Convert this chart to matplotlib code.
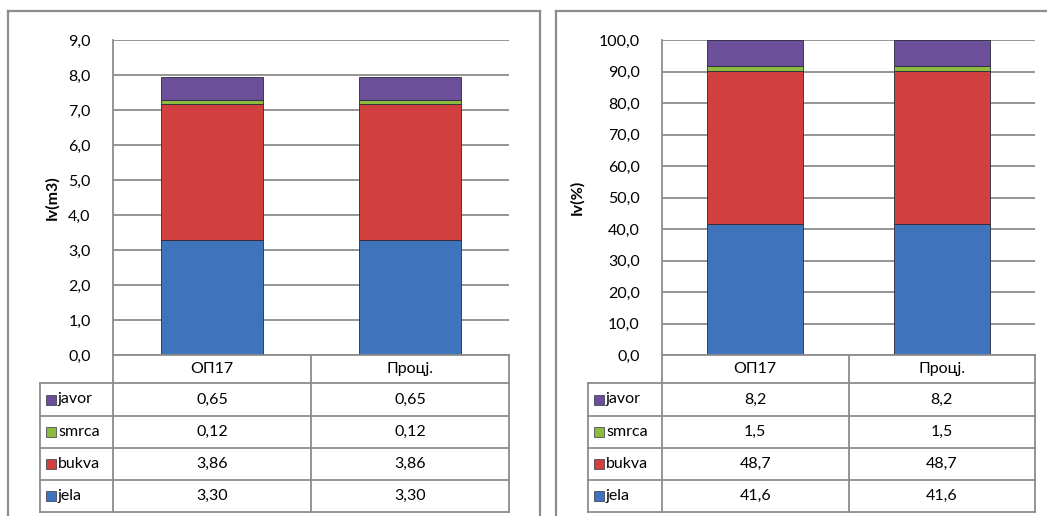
import matplotlib.pyplot as plt
from matplotlib.patches import Rectangle
from matplotlib.lines import Line2D

categories = ['ОП17', 'Процј.']
species = ['jela', 'bukva', 'smrca', 'javor']
colors = ['#3f74bd', '#d23f3f', '#8cbb3f', '#6b4f98']

vol_m3 = {'jela': [3.30, 3.30], 'bukva': [3.86, 3.86],
          'smrca': [0.12, 0.12], 'javor': [0.65, 0.65]}
vol_pct = {'jela': [41.6, 41.6], 'bukva': [48.7, 48.7],
           'smrca': [1.5, 1.5], 'javor': [8.2, 8.2]}

W, H = 1047, 516
FS = 11.5
plt.rcParams['font.family'] = ['Lato', 'DejaVu Sans']
fig = plt.figure(figsize=(W / 100, H / 100), dpi=100)
GRAY = '#8c8c8c'


def fx(x):
    return x / W


def fy(y):
    return 1 - y / H


def fline(x0, y0, x1, y1, lw=1.3):
    fig.add_artist(Line2D([fx(x0), fx(x1)], [fy(y0), fy(y1)], color=GRAY, lw=lw))


def panel(left, right, top, bottom, ymax, step, fmt, data, ylabel, tab_left, lab_x, bw):
    ax = fig.add_axes([fx(left), fy(bottom), fx(right - left), (bottom - top) / H])
    x = range(len(categories))
    base = [0] * len(categories)
    for sp, c in zip(species, colors):
        ax.bar(x, data[sp], bw, bottom=base, color=c, edgecolor='#2a2a3a',
               linewidth=0.6, zorder=3)
        base = [b + v for b, v in zip(base, data[sp])]
    ax.set_xlim(-0.5, len(categories) - 0.5)
    ax.set_ylim(0, ymax)
    ticks = [i * step for i in range(int(round(ymax / step)) + 1)]
    ax.set_yticks(ticks)
    ax.set_yticklabels([f'{t:.1f}'.replace('.', ',') for t in ticks], fontsize=FS)
    ax.yaxis.grid(True, color=GRAY, lw=1.3, zorder=0)
    ax.set_xticks([])
    for s in ['top', 'right', 'bottom']:
        ax.spines[s].set_visible(False)
    ax.spines['left'].set_color(GRAY)
    ax.spines['left'].set_linewidth(1.3)
    ax.tick_params(axis='y', length=0, pad=16)
    fig.text(fx(lab_x), fy((top + bottom) / 2), ylabel, rotation=90, ha='center',
             va='center', fontsize=FS, fontweight='bold')

    # data table
    rows = [bottom, bottom + 28, bottom + 61, bottom + 93, bottom + 125, bottom + 157]
    ncat = len(categories)
    cw = (right - left) / ncat
    fline(left, rows[0], right, rows[0])
    for r in rows[1:]:
        fline(tab_left, r, right, r)
    fline(tab_left, rows[1], tab_left, rows[-1])
    for i in range(ncat + 1):
        fline(left + i * cw, rows[0], left + i * cw, rows[-1])
    for i, c in enumerate(categories):
        fig.text(fx(left + (i + 0.5) * cw), fy((rows[0] + rows[1]) / 2), c,
                 ha='center', va='center', fontsize=FS)
    for j, sp in enumerate(reversed(species)):
        yc = (rows[j + 1] + rows[j + 2]) / 2
        col = colors[species.index(sp)]
        fig.add_artist(Rectangle((fx(tab_left + 6), fy(yc + 5)), fx(10), 10 / H,
                                 facecolor=col, edgecolor='#333344', lw=0.5))
        fig.text(fx(tab_left + 18), fy(yc), sp, ha='left', va='center', fontsize=FS)
        for i in range(ncat):
            fig.text(fx(left + (i + 0.5) * cw), fy(yc), fmt(data[sp][i]),
                     ha='center', va='center', fontsize=FS)
    return ax


panel(113, 509, 40, 355, 9, 1, lambda v: f'{v:.2f}'.replace('.', ','),
      vol_m3, 'Iv(m3)', 40, 52, 0.52)
panel(662, 1035, 40, 355, 100, 10, lambda v: f'{v:.1f}'.replace('.', ','),
      vol_pct, 'Iv(%)', 588, 577, 0.515)

# panel borders
fline(8, 11, 540, 11, 1.6)
fline(8, 11, 8, 516, 1.6)
fline(540, 11, 540, 516, 1.6)
fline(556, 11, 1047, 11, 1.6)
fline(556, 11, 556, 516, 1.6)

fig.savefig('out.png', dpi=100)
